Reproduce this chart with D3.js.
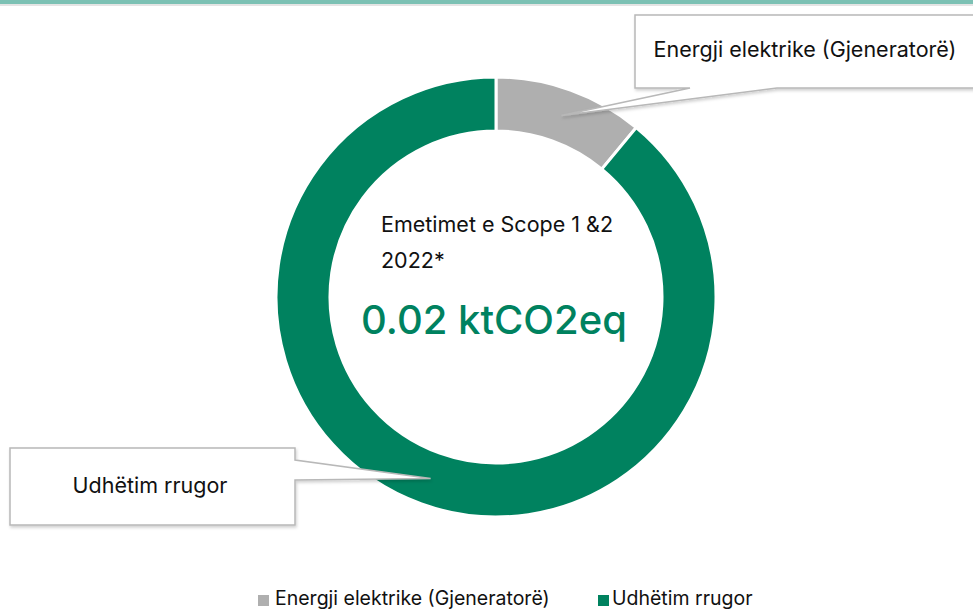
<!DOCTYPE html>
<html>
<head>
<meta charset="utf-8">
<script src="https://cdn.jsdelivr.net/npm/d3@7"></script>
<style>
	body { margin: 0; background: #fff; }
	svg { display: block; font-family: Inter, "Noto Sans", sans-serif; }
</style>
</head>
<body>
<script>
// chart data
var categories = ['Energji elektrike (Gjeneratorë)', 'Udhëtim rrugor'];
var values = [11, 89];
var colors = ['#afafaf', '#00825f'];
var centerTitle = ['Emetimet e Scope 1 &2', '2022*'];
var centerValue = '0.02 ktCO2eq';

var width = 973, height = 610;
var cx = 496, cy = 297, outerR = 220, innerR = 166;

var svg = d3.select('body').append('svg')
	.attr('width', width)
	.attr('height', height);

// drop shadow for the callouts
var defs = svg.append('defs');
var f = defs.append('filter').attr('id', 'shadow').attr('x', '-10%').attr('y', '-10%').attr('width', '130%').attr('height', '140%');
f.append('feDropShadow').attr('dx', 1).attr('dy', 2).attr('stdDeviation', 1.5).attr('flood-color', '#000').attr('flood-opacity', 0.18);

// top band
svg.append('rect').attr('x', 0).attr('y', 0).attr('width', width).attr('height', 4).attr('fill', '#7cc1b4');
svg.append('rect').attr('x', 0).attr('y', 4).attr('width', width).attr('height', 2).attr('fill', '#e4e4e4');

var pie = d3.pie().sort(null).value(function (d) { return d; });
var arcs = pie(values);
var arc = d3.arc().innerRadius(innerR).outerRadius(outerR);

var g = svg.append('g').attr('transform', 'translate(' + cx + ',' + cy + ')');

g.selectAll('.slice').data(arcs).enter().append('path')
	.attr('class', 'slice')
	.attr('d', arc)
	.attr('fill', function (d, i) { return colors[i]; })
	.attr('stroke', '#fff')
	.attr('stroke-width', 3);

// center labels
g.selectAll('.ctitle').data(centerTitle).enter().append('text')
	.attr('class', 'ctitle')
	.attr('x', -115)
	.attr('y', function (d, i) { return -65 + i * 36; })
	.attr('font-size', 21.5)
	.attr('fill', '#111')
	.text(function (d) { return d; });

g.append('text')
	.attr('x', -2)
	.attr('y', 37)
	.attr('text-anchor', 'middle')
	.attr('font-size', 40)
	.attr('font-weight', 500)
	.attr('fill', '#00825f')
	.text(centerValue);

// callouts, pointer tip at the slice centroid
var tips = arcs.map(function (d) {
	var c = arc.centroid(d);
	return [c[0] + cx, c[1] + cy];
});

var t0 = tips[0], t1 = tips[1];
var callouts = [
	{ path: 'M635,15 H985 V88 H777 L' + t0[0] + ',' + t0[1] + ' L690,88 H635 Z', tx: 805, ty: 57, label: categories[0] },
	{ path: 'M10,448 H295 V460 L' + t1[0] + ',' + t1[1] + ' L295,480 V525 H10 Z', tx: 150, ty: 493, label: categories[1] }
];

svg.selectAll('.callout').data(callouts).enter().append('path')
	.attr('class', 'callout')
	.attr('d', function (d) { return d.path; })
	.attr('fill', '#fff')
	.attr('stroke', '#b8b8b8')
	.attr('stroke-width', 1.5)
	.attr('filter', 'url(#shadow)');

svg.selectAll('.clabel').data(callouts).enter().append('text')
	.attr('class', 'clabel')
	.attr('x', function (d) { return d.tx; })
	.attr('y', function (d) { return d.ty; })
	.attr('text-anchor', 'middle')
	.attr('font-size', 21.5)
	.attr('fill', '#111')
	.text(function (d) { return d.label; });

// legend
var legendX = [258, 598];
var legend = svg.selectAll('.legend').data(categories).enter().append('g')
	.attr('class', 'legend')
	.attr('transform', function (d, i) { return 'translate(' + legendX[i] + ',605)'; });
legend.append('rect').attr('x', 0).attr('y', -10).attr('width', 11).attr('height', 11)
	.attr('fill', function (d, i) { return colors[i]; });
legend.append('text').attr('x', function (d, i) { return i ? 14 : 17; }).attr('y', 0)
	.attr('font-size', 19.5)
	.attr('fill', '#111')
	.text(function (d) { return d; });
</script>
</body>
</html>
